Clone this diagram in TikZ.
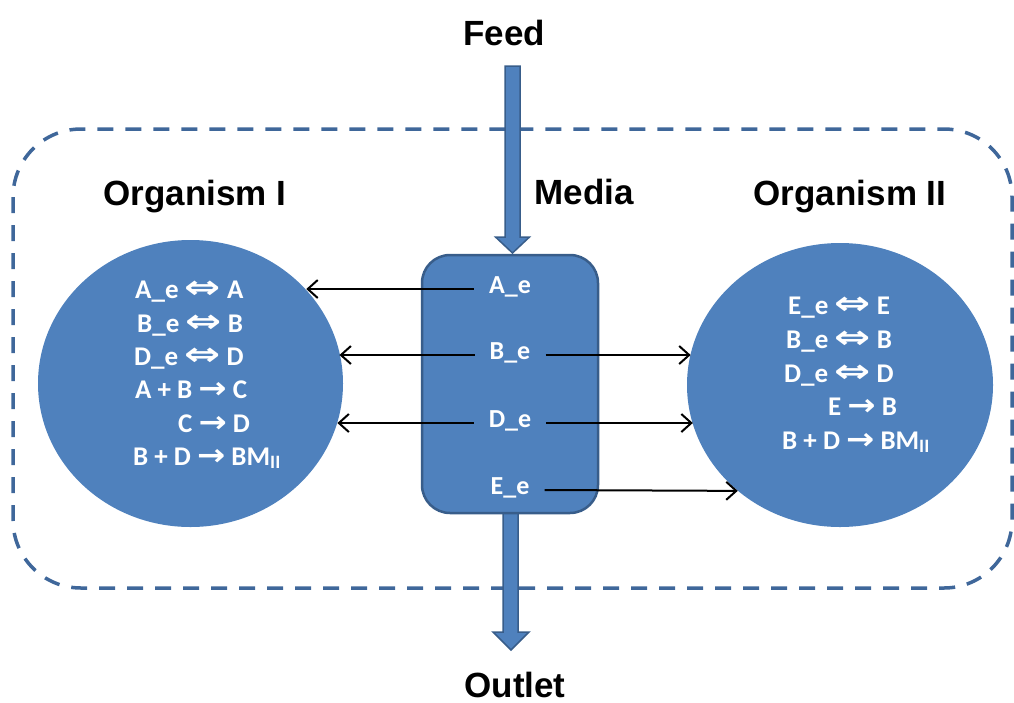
\documentclass[tikz,border=0pt]{standalone}
\usepackage{fontspec}
\usepackage{graphicx}
\setmainfont{Liberation Sans}
\newfontfamily\carl{Carlito}
\newfontfamily\djv{DejaVu Sans}
\usetikzlibrary{shapes.geometric,arrows.meta}
\definecolor{bfill}{HTML}{4F81BD}
\definecolor{bedge}{HTML}{385D8A}
\definecolor{dashc}{HTML}{3F679A}
\newcommand{\mylra}{{\djv\scalebox{1.6}[1.2]{⇔}}}
\newcommand{\myra}{{\djv\scalebox{1.25}[1.1]{→}}}
\begin{document}
\begin{tikzpicture}[x=1pt,y=-1pt,
  title/.style={font=\bfseries\fontsize{35}{40}\selectfont, anchor=base, inner sep=0pt},
  rxn/.style={font=\carl\bfseries\fontsize{27}{30}\selectfont, text=white, anchor=base west, inner sep=0pt},
  lab/.style={font=\carl\bfseries\fontsize{26}{30}\selectfont, text=white, inner xsep=15pt, inner ysep=0pt, text height=8pt, text depth=0pt, anchor=base},
  cell/.style={ellipse, fill=bfill, draw=none, inner sep=0pt},
  conn/.style={draw=black, line width=2pt, -{Straight Barb[length=10pt,width=18pt]}},
  flow/.style={fill=bfill, draw=bedge, line width=1.5pt, line join=miter},
  bound/.style={draw=dashc, line width=3.5pt, dash pattern=on 16pt off 12pt, rounded corners=68pt}
]
\useasboundingbox (0,0) rectangle (1014,702);
% system boundary
\draw[bound] (13,129) rectangle (1012,588);
% organisms
\node[cell, minimum width=305pt, minimum height=287pt] (org1) at (190.5,383.5) {};
\node[cell, minimum width=306pt, minimum height=284pt] (org2) at (840,385) {};
% feed and outlet arrows
\draw[flow] (505,66) -- (520,66) -- (520,237) -- (529.5,237) -- (512.5,253) -- (495.5,237) -- (505,237) -- cycle;
\draw[flow] (503,505) -- (518,505) -- (518,632) -- (529,632) -- (511,650) -- (493,632) -- (503,632) -- cycle;
% media box
\node[draw=bedge, fill=bfill, line width=2.5pt, rounded corners=28pt, minimum width=176pt, minimum height=258pt, inner sep=0pt] (mbox) at (510,384) {};
% titles
\node[title] (feed) at (504,45) {Feed};
\node[title] (media) at (584,204) {Media};
\node[title] (orgI) at (195,205) {Organism I};
\node[title] (orgII) at (850,205) {Organism II};
\node[title] (outlet) at (515,697) {Outlet};
% media labels
\node[lab] (Ae) at (510,293) {A\_e};
\node[lab] (Be) at (510,359) {B\_e};
\node[lab] (De) at (510,427) {D\_e};
\node[lab] (Ee) at (510,494) {E\_e};
% organism I reactions
\node[rxn] (l1) at (135,298) {A\_e \mylra{} A};
\node[rxn] (l2) at (137,332) {B\_e \mylra{} B};
\node[rxn] (l3) at (134,365) {D\_e \mylra{} D};
\node[rxn] (l4) at (135,398) {A + B \myra{} C};
\node[rxn] (l5) at (178,432) {C \myra{} D};
\node[rxn] (l6) at (133,465) {B + D \myra{} BM\textsubscript{II}};
% organism II reactions
\node[rxn] (r1) at (788,314) {E\_e \mylra{} E};
\node[rxn] (r2) at (786,348) {B\_e \mylra{} B};
\node[rxn] (r3) at (784,382) {D\_e \mylra{} D};
\node[rxn] (r4) at (828,415) {E \myra{} B};
\node[rxn] (r5) at (782,449) {B + D \myra{} BM\textsubscript{II}};
% exchange connectors
\draw[conn] (Ae.west) -- (Ae.west -| org1.39);
\draw[conn] (Be.west) -- (Be.west -| org1.12);
\draw[conn] (De.west) -- (De.west -| org1.-15);
\draw[conn] (Be.east) -- (Be.east -| org2.168);
\draw[conn] (De.east) -- (De.east -| org2.195);
\draw[conn] (Ee.east) -- (org2.226);
\end{tikzpicture}
\end{document}
